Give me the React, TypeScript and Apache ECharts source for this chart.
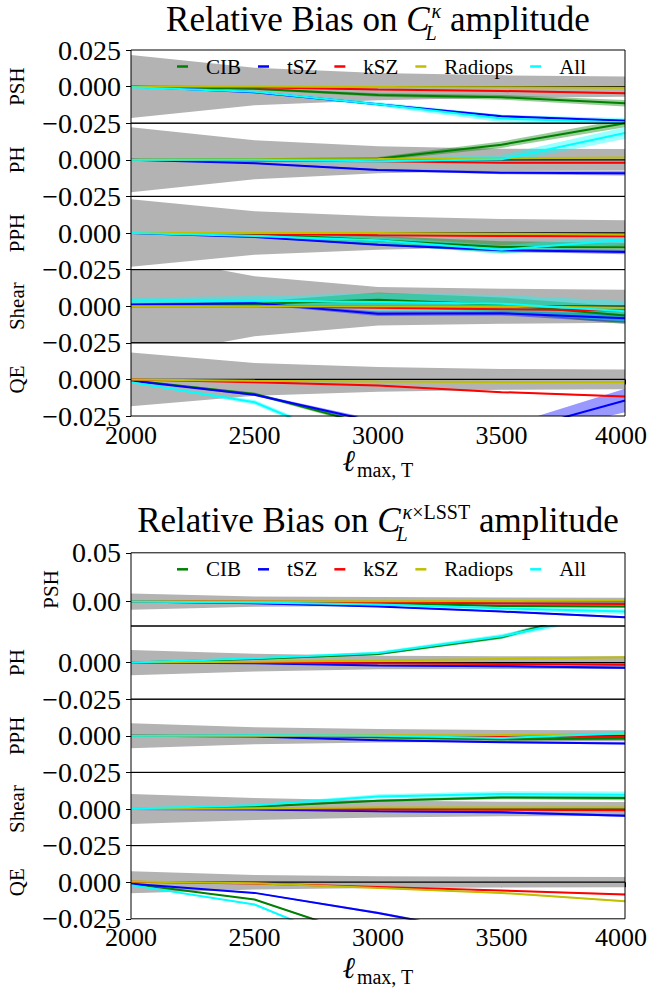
import React, { useEffect, useRef } from "react";
import * as echarts from "echarts";

// ---------------- data ----------------
const lmax = [2000, 2500, 3000, 3500, 4000];
const sources = ["CIB", "tSZ", "kSZ", "Radiops", "All"];
const sourceColors = ["#008000", "#0000ff", "#ff0000", "#bfbf00", "#00ffff"];
const estimators = ["PSH", "PH", "PPH", "Shear", "QE"];

// Figure 1: relative bias on C_L^kappa amplitude
const kkSigma = [
  [0.0215, 0.0128, 0.0093, 0.0077, 0.0069],
  [0.0222, 0.0133, 0.0092, 0.0076, 0.0073],
  [0.023, 0.0149, 0.0115, 0.0096, 0.0087],
  [0.036, 0.0205, 0.0132, 0.012, 0.0113],
  [0.0184, 0.0112, 0.0085, 0.0071, 0.0067],
];
const kkPSH = [
  [0, -0.0015, -0.0057, -0.0073, -0.0114],
  [0, -0.0039, -0.0121, -0.0202, -0.0234],
  [0, -0.0005, -0.002, -0.003, -0.0045],
  [0, 0, -0.0003, -0.0005, -0.0008],
  [-0.0005, -0.0035, -0.012, -0.0218, -0.0245],
];
const kkPSHerr = [
  [0, 0.0006, 0.0012, 0.0016, 0.0022],
  [0, 0.0003, 0.0006, 0.0008, 0.001],
  [0, 0.0002, 0.0003, 0.0004, 0.0005],
  [0, 0.0002, 0.0002, 0.0003, 0.0003],
  [0, 0.0008, 0.0015, 0.0025, 0.003],
];
const kkPH = [
  [0, 0.0004, 0.0007, 0.0103, 0.025],
  [0, -0.0023, -0.0069, -0.0089, -0.0092],
  [0, -0.0005, -0.001, -0.002, -0.002],
  [0, 0.0003, 0.0005, 0.001, 0.0015],
  [0, 0, -0.001, 0.0003, 0.0183],
];
const kkPHerr = [
  [0, 0.0006, 0.0012, 0.0022, 0.0028],
  [0, 0.0004, 0.0006, 0.001, 0.0015],
  [0, 0.0002, 0.0003, 0.0004, 0.0005],
  [0, 0.0002, 0.0002, 0.0003, 0.0003],
  [0, 0.001, 0.002, 0.003, 0.004],
];
const kkPPH = [
  [0, -0.0005, -0.005, -0.0096, -0.0098],
  [0, -0.0027, -0.008, -0.0117, -0.013],
  [0, -0.0003, -0.0015, -0.002, -0.0023],
  [0, 0, 0, -0.0005, -0.001],
  [0, -0.002, -0.005, -0.0114, -0.0046],
];
const kkPPHerr = [
  [0, 0.0005, 0.003, 0.004, 0.003],
  [0, 0.0004, 0.0006, 0.001, 0.0015],
  [0, 0.0002, 0.0003, 0.0004, 0.0005],
  [0, 0.0002, 0.0002, 0.0003, 0.0003],
  [0, 0.0008, 0.0025, 0.003, 0.003],
];
const kkShear = [
  [0.001, 0.0015, 0.0044, 0.001, -0.0064],
  [0.001, 0.0021, -0.0052, -0.0048, -0.0083],
  [0, 0, -0.0011, -0.002, -0.003],
  [0, 0, 0, 0, -0.001],
  [0.0034, 0.0039, 0.0028, 0.0017, -0.0034],
];
const kkShearErr = [
  [0.001, 0.0015, 0.005, 0.005, 0.006],
  [0.001, 0.001, 0.0015, 0.0015, 0.003],
  [0, 0.0003, 0.0004, 0.0005, 0.0006],
  [0, 0.0002, 0.0002, 0.0003, 0.0003],
  [0.0025, 0.003, 0.006, 0.006, 0.007],
];
const kkQE = [
  [-0.0005, -0.0099, -0.0325, -0.055, -0.06],
  [-0.001, -0.0105, -0.0293, -0.0377, -0.0144],
  [0, -0.002, -0.0041, -0.0087, -0.0117],
  [0, -0.001, -0.0015, -0.0018, -0.0018],
  [-0.002, -0.0156, -0.051, -0.07, -0.07],
];
const kkQEerr = [
  [0, 0.001, 0.0015, 0.002, 0.002],
  [0, 0.0008, 0.0015, 0.005, 0.008],
  [0, 0.0002, 0.0003, 0.0004, 0.0005],
  [0, 0.0002, 0.0002, 0.0003, 0.0003],
  [0, 0.0015, 0.002, 0.003, 0.003],
];

// Figure 2: relative bias on C_L^{kappa x LSST} amplitude
const kgSigma = [
  [0.0083, 0.0052, 0.0046, 0.0042, 0.004],
  [0.0086, 0.006, 0.0046, 0.0043, 0.0043],
  [0.0085, 0.0058, 0.0046, 0.004, 0.0038],
  [0.0102, 0.0075, 0.0058, 0.005, 0.0047],
  [0.0075, 0.005, 0.004, 0.0037, 0.0035],
];
const kgPSH = [
  [0, -0.0005, -0.0015, -0.0044, -0.005],
  [0, -0.0017, -0.005, -0.0102, -0.016],
  [0, 0, -0.0005, -0.002, -0.0025],
  [0, 0, 0.0003, 0.0005, 0.0008],
  [0, -0.001, -0.003, -0.0068, -0.0102],
];
const kgPSHerr = [
  [0, 0.0003, 0.0006, 0.001, 0.0013],
  [0, 0.0003, 0.0005, 0.0008, 0.001],
  [0, 0.0002, 0.0003, 0.0004, 0.0005],
  [0, 0.0002, 0.0002, 0.0003, 0.0003],
  [0, 0.0005, 0.001, 0.002, 0.003],
];
const kgPH = [
  [0, 0.0025, 0.0059, 0.0173, 0.041],
  [0, -0.0005, -0.002, -0.0025, -0.0036],
  [0, 0, -0.0005, -0.001, -0.0015],
  [0, 0.0005, 0.0014, 0.0025, 0.0036],
  [0, 0.003, 0.0065, 0.018, 0.0356],
];
const kgPHerr = [
  [0, 0.0004, 0.0008, 0.0012, 0.002],
  [0, 0.0003, 0.0004, 0.0006, 0.0008],
  [0, 0.0002, 0.0003, 0.0004, 0.0005],
  [0, 0.0002, 0.0002, 0.0003, 0.0003],
  [0, 0.0005, 0.001, 0.0015, 0.002],
];
const kgPPH = [
  [0, 0, -0.001, -0.0023, -0.0018],
  [0, -0.0005, -0.003, -0.0044, -0.0052],
  [0, 0, -0.0003, -0.0005, -0.0008],
  [0, 0, 0.0003, 0.0005, 0.0012],
  [0, 0.0003, 0, -0.0015, 0.0018],
];
const kgPPHerr = [
  [0, 0.0003, 0.0006, 0.001, 0.001],
  [0, 0.0003, 0.0004, 0.0006, 0.0008],
  [0, 0.0002, 0.0003, 0.0004, 0.0005],
  [0, 0.0002, 0.0002, 0.0003, 0.0003],
  [0, 0.0004, 0.0008, 0.001, 0.0012],
];
const kgShear = [
  [0, 0.0016, 0.0057, 0.0079, 0.0075],
  [0, -0.0003, -0.0015, -0.0023, -0.0046],
  [0, 0, -0.0003, -0.0005, -0.0008],
  [0, 0.0005, 0.001, 0.001, 0.001],
  [0.0003, 0.0025, 0.0086, 0.0102, 0.0097],
];
const kgShearErr = [
  [0, 0.0004, 0.0008, 0.0012, 0.0015],
  [0, 0.0003, 0.0005, 0.0007, 0.0009],
  [0, 0.0002, 0.0003, 0.0004, 0.0005],
  [0, 0.0002, 0.0002, 0.0003, 0.0003],
  [0, 0.0008, 0.0015, 0.002, 0.0022],
];
const kgQE = [
  [-0.001, -0.0118, -0.04, -0.06, -0.07],
  [-0.001, -0.0073, -0.021, -0.037, -0.05],
  [0.0003, -0.0009, -0.0032, -0.0057, -0.0084],
  [0.0005, -0.0008, -0.0039, -0.0073, -0.013],
  [-0.002, -0.0152, -0.05, -0.07, -0.08],
];
const kgQEerr = [
  [0, 0.0004, 0.0008, 0.001, 0.001],
  [0, 0.0004, 0.0008, 0.001, 0.001],
  [0, 0.0002, 0.0003, 0.0004, 0.0005],
  [0, 0.0002, 0.0003, 0.0004, 0.0005],
  [0, 0.0005, 0.001, 0.001, 0.001],
];

// tick labels
const yTicksFirstTop = [0.025, 0, -0.025];
const yTicksInner = [0, -0.025];
const yTicksLsstTop = [0.05, 0];

// ---------------- layout ----------------
const FONT = "'Liberation Serif', serif";
const PLOT_L = 131;
const PLOT_W = 494;
const PANEL_H = 73.2;
const CX = PLOT_L + PLOT_W / 2;

const figures = [
  {
    top: 50,
    sigma: kkSigma,
    vals: [kkPSH, kkPH, kkPPH, kkShear, kkQE],
    errs: [kkPSHerr, kkPHerr, kkPPHerr, kkShearErr, kkQEerr],
    titleBase: 31,
    sup: [{ t: "κ", it: true }],
    xlabBase: 470,
  },
  {
    top: 552.8,
    sigma: kgSigma,
    vals: [kgPSH, kgPH, kgPPH, kgShear, kgQE],
    errs: [kgPSHerr, kgPHerr, kgPPHerr, kgShearErr, kgQEerr],
    titleBase: 532,
    sup: [
      { t: "κ", it: true },
      { t: "×LSST", it: false },
    ],
    xlabBase: 977,
  },
];

let ctx: CanvasRenderingContext2D | null = null;
function measure(text: string, size: number, italic: boolean) {
  if (!ctx) ctx = document.createElement("canvas").getContext("2d");
  if (!ctx) return text.length * size * 0.5;
  ctx.font = `${italic ? "italic " : ""}${size}px 'Liberation Serif', serif`;
  return ctx.measureText(text).width;
}

function txt(text: string, x: number, baseline: number, size: number, italic: boolean) {
  return {
    type: "text",
    x,
    y: baseline - 0.33 * size,
    z: 50,
    silent: true,
    style: {
      text,
      fontSize: size,
      fontFamily: FONT,
      fontStyle: italic ? "italic" : "normal",
      fill: "#000",
      align: "left",
      verticalAlign: "middle",
    },
  };
}

function titleElements(baseline: number, sup: { t: string; it: boolean }[]) {
  const TS = 35;
  const SS = 20;
  const w1 = measure("Relative Bias on ", TS, false);
  const wC = measure("C", TS, true);
  const supW = sup.reduce((s, p) => s + measure(p.t, SS, p.it), 0) + 2;
  const subW = measure("L", SS, true);
  const scriptW = Math.max(supW, subW);
  const w2 = measure(" amplitude", TS, false);
  const total = w1 + wC + scriptW + w2;
  let x = CX - total / 2;
  const els: any[] = [];
  els.push(txt("Relative Bias on ", x, baseline, TS, false));
  x += w1;
  els.push(txt("C", x, baseline, TS, true));
  x += wC;
  let sx = x + 2;
  sup.forEach((p) => {
    els.push(txt(p.t, sx, baseline - 13, SS, p.it));
    sx += measure(p.t, SS, p.it);
  });
  els.push(txt("L", x - 4, baseline + 9, SS, true));
  x += scriptW;
  els.push(txt(" amplitude", x, baseline, TS, false));
  return els;
}

function xlabelElements(baseline: number) {
  const wl = measure("ℓ", 30, true);
  const ws = measure("max, T", 20, false);
  const x0 = CX - (wl + 2 + ws) / 2;
  return [txt("ℓ", x0, baseline, 30, true), txt("max, T", x0 + wl + 2, baseline + 7, 20, false)];
}

function tickFormatter(allowed: number[], dec: number) {
  return (v: number) => {
    if (!allowed.some((a) => Math.abs(a - v) < 1e-9)) return "";
    const s = Math.abs(v).toFixed(dec);
    return v < -1e-9 ? "\u2212" + s : s;
  };
}

function hexA(hex: string, a: number) {
  const r = parseInt(hex.slice(1, 3), 16);
  const g = parseInt(hex.slice(3, 5), 16);
  const b = parseInt(hex.slice(5, 7), 16);
  return `rgba(${r},${g},${b},${a})`;
}

function buildOption() {
  const grid: any[] = [];
  const xAxis: any[] = [];
  const yAxis: any[] = [];
  const series: any[] = [];
  const graphic: any[] = [];
  const legend: any[] = [];
  const xMax = lmax[lmax.length - 1];

  figures.forEach((fig, f) => {
    estimators.forEach((est, p) => {
      const gi = f * 5 + p;
      const top = fig.top + p * PANEL_H;
      const isBottom = p === 4;
      const ymax = f === 1 && p === 0 ? 0.05 : 0.025;
      const ticks = p === 0 ? (f === 0 ? yTicksFirstTop : yTicksLsstTop) : yTicksInner;
      const dec = f === 1 && p === 0 ? 2 : 3;
      grid.push({
        left: PLOT_L,
        top,
        width: PLOT_W,
        height: PANEL_H,
        show: false,
        containLabel: false,
        outerBoundsMode: "none",
      });
      xAxis.push({
        gridIndex: gi,
        type: "value",
        min: lmax[0],
        max: xMax,
        interval: 500,
        splitLine: { show: false },
        axisLine: { show: false },
        axisTick: { show: isBottom, length: 5, lineStyle: { color: "#000", width: 1 } },
        axisLabel: {
          show: isBottom,
          fontSize: 26,
          fontFamily: FONT,
          color: "#000",
          margin: 6,
          formatter: (v: number) => (v === xMax ? `{m|${v}}` : String(v)),
          rich: {
            m: { fontSize: 26, fontFamily: FONT, color: "#000", padding: [0, 8, 0, 0] },
          },
        },
      });
      yAxis.push({
        gridIndex: gi,
        type: "value",
        min: -0.025,
        max: ymax,
        interval: 0.025,
        splitLine: { show: false },
        axisLine: { show: false },
        axisTick: {
          show: true,
          length: 5,
          lineStyle: { color: "#000", width: 1 },
          customValues: ticks,
        },
        axisLabel: {
          fontSize: 28,
          fontFamily: FONT,
          color: "#000",
          margin: 10,
          customValues: ticks,
          formatter: tickFormatter(ticks, dec),
        },
        name: est,
        nameLocation: "middle",
        nameRotate: 90,
        nameGap: f === 1 && p === 0 ? 66 : 104,
        nameTextStyle: { fontSize: 21, fontFamily: FONT, color: "#000" },
      });

      const sig = fig.sigma[p];
      const vals = fig.vals[p];
      const errs = fig.errs[p];
      const bands = [
        { upper: sig.map((s) => s), lower: sig.map((s) => -s), fill: "#b3b3b3" },
        ...sources.map((_, k) => ({
          upper: vals[k].map((v, j) => v + errs[k][j]),
          lower: vals[k].map((v, j) => v - errs[k][j]),
          fill: hexA(sourceColors[k], 0.4),
        })),
      ];
      series.push({
        type: "custom",
        xAxisIndex: gi,
        yAxisIndex: gi,
        silent: true,
        clip: true,
        z: 1,
        data: bands.map((_, i) => [lmax[0], 0, i]),
        renderItem: (params: any, api: any) => {
          const b = bands[params.dataIndex];
          const pts: number[][] = [];
          lmax.forEach((x, j) => pts.push(api.coord([x, b.upper[j]])));
          for (let j = lmax.length - 1; j >= 0; j--) pts.push(api.coord([lmax[j], b.lower[j]]));
          const cs = params.coordSys;
          return {
            type: "polygon",
            shape: { points: pts },
            style: { fill: b.fill, stroke: "none" },
            clipPath: { type: "rect", shape: { x: cs.x, y: cs.y, width: cs.width, height: cs.height } },
          };
        },
      });
      series.push({
        type: "line",
        name: "zero",
        xAxisIndex: gi,
        yAxisIndex: gi,
        silent: true,
        symbol: "none",
        z: 2,
        lineStyle: { color: "#000", width: 1.3 },
        data: lmax.map((x) => [x, 0]),
      });
      sources.forEach((name, k) => {
        series.push({
          type: "line",
          name,
          xAxisIndex: gi,
          yAxisIndex: gi,
          silent: true,
          symbol: "none",
          z: 3,
          color: sourceColors[k],
          lineStyle: { color: sourceColors[k], width: 2 },
          data: lmax.map((x, j) => [x, vals[k][j]]),
        });
      });
      graphic.push({
        type: "rect",
        z: 100,
        silent: true,
        shape: { x: PLOT_L, y: top, width: PLOT_W, height: PANEL_H },
        style: { fill: "none", stroke: "#000", lineWidth: 1 },
      });
    });

    legend.push({
      top: fig.top + 1,
      left: 172,
      data: sources,
      icon: "rect",
      itemWidth: 11,
      itemHeight: 2.5,
      itemGap: 17,
      selectedMode: false,
      textStyle: { fontFamily: FONT, fontSize: 21, color: "#000", padding: [0, 0, 0, 13] },
    });
    graphic.push(...titleElements(fig.titleBase, fig.sup));
    graphic.push(...xlabelElements(fig.xlabBase));
  });

  return {
    animation: false,
    backgroundColor: "#fff",
    textStyle: { fontFamily: FONT },
    grid,
    xAxis,
    yAxis,
    series,
    legend,
    graphic,
  };
}

export default function App() {
  const ref = useRef<HTMLDivElement>(null);
  useEffect(() => {
    if (!ref.current) return;
    const chart = echarts.init(ref.current, null, { renderer: "svg" });
    chart.setOption(buildOption() as any);
    return () => chart.dispose();
  }, []);
  return (
    <div
      ref={ref}
      style={{ position: "absolute", left: 0, top: 0, width: 649, height: 990, background: "#fff" }}
    />
  );
}
